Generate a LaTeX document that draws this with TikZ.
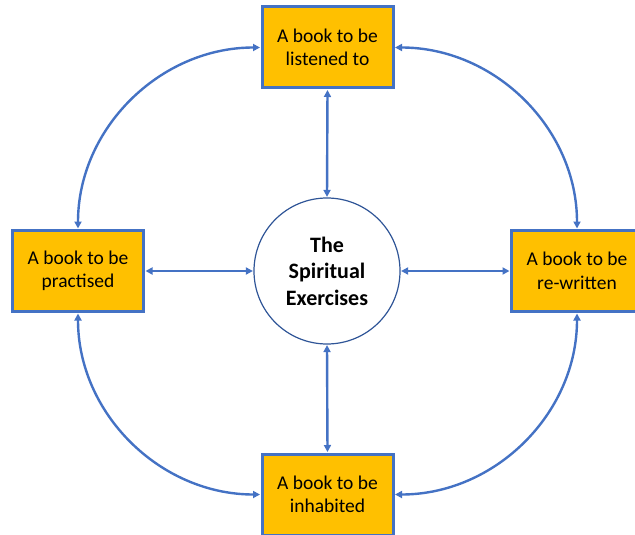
\documentclass[tikz,border=0pt]{standalone}
\usepackage{fontspec}
\setmainfont{Carlito}
\usetikzlibrary{arrows.meta}
\definecolor{boxfill}{HTML}{FFC000}
\definecolor{boxline}{HTML}{4472C4}
\definecolor{circline}{HTML}{2F5597}
\begin{document}
\begin{tikzpicture}[x=1pt,y=1pt,
  bookbox/.style={draw=boxline, line width=3pt, fill=boxfill, rectangle,
    minimum width=131pt, minimum height=81pt, align=center, inner sep=0pt,
    font=\fontsize{19.5pt}{23.5pt}\selectfont},
  hub/.style={draw=circline, line width=1.2pt, circle, minimum size=146pt,
    inner sep=0pt, align=center, font=\fontsize{22pt}{26.5pt}\selectfont\bfseries},
  link/.style={draw=boxline, line width=2.4pt, {Triangle[length=7pt,width=7pt]}-{Triangle[length=7pt,width=7pt]}, shorten <=0.5pt, shorten >=0.5pt}
]
\useasboundingbox (0,0) rectangle (635,-535);
\node[bookbox] (top) at (327.5,-47.5) {A book to be\\listened to};
\node[bookbox] (left) at (78,-271) {A book to be\\practised};
\node[bookbox] (right) at (577,-271) {A book to be\\re-written};
\node[bookbox] (bottom) at (327.5,-494.5) {A book to be\\inhabited};
\node[hub] (hub) at (327,-271) {The\\Spiritual\\Exercises};
\draw[link] (top.south) -- (hub.north);
\draw[link] (bottom.north) -- (hub.south);
\draw[link] (left.east) -- (hub.west);
\draw[link] (right.west) -- (hub.east);
\draw[link] (top.west) to[out=180,in=90] (left.north);
\draw[link] (top.east) to[out=0,in=90] (right.north);
\draw[link] (left.south) to[out=-90,in=180] (bottom.west);
\draw[link] (right.south) to[out=-90,in=0] (bottom.east);
\end{tikzpicture}
\end{document}
